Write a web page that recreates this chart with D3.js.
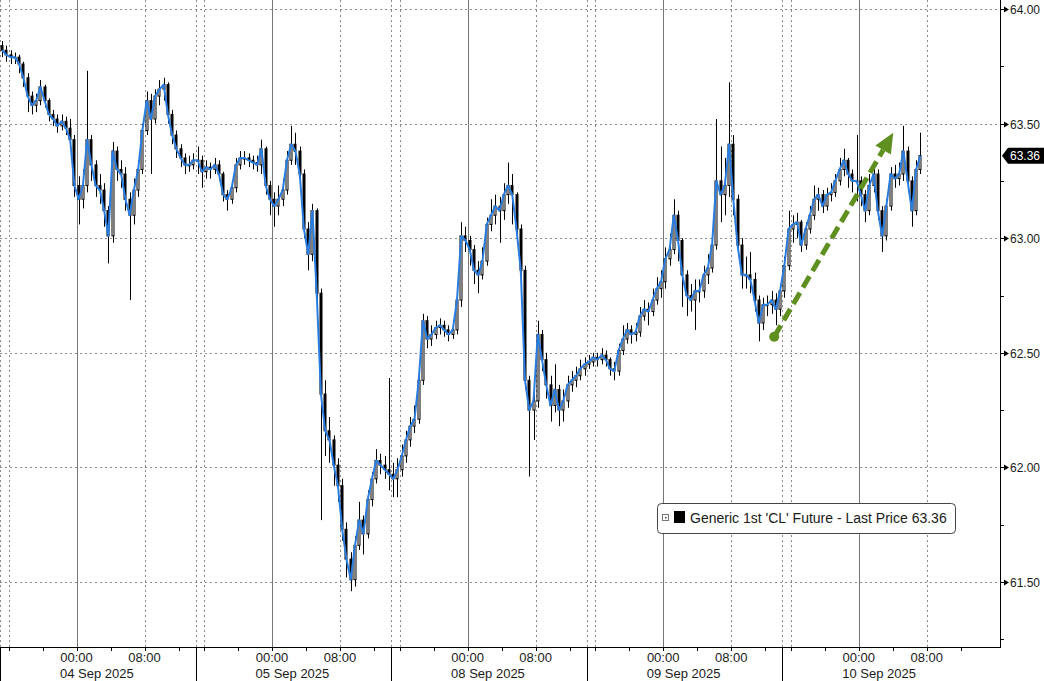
<!DOCTYPE html>
<html><head><meta charset="utf-8">
<script src="https://cdn.jsdelivr.net/npm/d3@7"></script>
<style>html,body{margin:0;padding:0;background:#fff;}svg{display:block;}</style>
</head><body>
<svg id="chart" width="1044" height="681"></svg>
<script>
// ---- data ----
const sessionDates = ["04 Sep 2025","05 Sep 2025","08 Sep 2025","09 Sep 2025","10 Sep 2025"];
const hourLabels = ["00:00","08:00"];
const priceTicks = [61.5, 62.0, 62.5, 63.0, 63.5, 64.0];
const minorPriceTicks = [61.25, 61.75, 62.25, 62.75, 63.25, 63.75];
const seriesName = "Generic 1st 'CL' Future - Last Price";
const firstOpen = 63.84;

const closes04 = [63.82,63.80,63.79,63.79,63.76,63.70,63.62,63.58,63.60,63.66,63.60,63.54,63.52,63.49,63.51,63.48,63.43,63.23,63.17,63.23,63.43,63.32,63.23,63.21,63.12,63.01,63.38,63.30,63.28,63.17,63.10,63.21,63.30,63.47,63.60,63.52,63.62,63.65,63.67,63.54,63.45,63.39,63.35,63.32,63.32,63.34];
const highs04  = [63.86,63.84,63.82,63.81,63.80,63.77,63.72,63.64,63.63,63.69,63.67,63.61,63.56,63.54,63.54,63.53,63.52,63.45,63.27,63.30,63.73,63.45,63.34,63.28,63.24,63.14,63.42,63.40,63.34,63.31,63.20,63.26,63.34,63.50,63.64,63.63,63.65,63.69,63.70,63.68,63.56,63.47,63.41,63.37,63.36,63.37];
const lows04   = [63.79,63.77,63.76,63.76,63.72,63.66,63.55,63.54,63.55,63.58,63.57,63.51,63.49,63.46,63.47,63.45,63.40,63.18,63.06,63.13,63.20,63.25,63.18,63.15,63.05,62.89,62.98,63.25,63.22,63.12,62.73,63.06,63.18,63.28,63.45,63.28,63.50,63.58,63.60,63.50,63.41,63.35,63.31,63.28,63.29,63.30];

const closes05 = [63.34,63.29,63.31,63.30,63.32,63.28,63.19,63.17,63.22,63.32,63.35,63.35,63.34,63.33,63.32,63.39,63.23,63.17,63.14,63.17,63.21,63.34,63.41,63.38,63.28,63.04,62.93,63.12,62.76,62.32,62.16,62.12,62.01,61.92,61.73,61.60,61.51,61.66,61.77,61.71,61.86,61.95,62.03,62.01,61.99,61.97];
const highs05  = [63.40,63.36,63.34,63.33,63.35,63.34,63.29,63.21,63.25,63.35,63.38,63.38,63.37,63.36,63.36,63.43,63.40,63.25,63.20,63.23,63.26,63.38,63.49,63.46,63.40,63.30,63.07,63.15,63.13,62.78,62.38,62.22,62.14,62.04,61.95,61.76,61.63,61.70,61.85,61.79,61.90,61.98,62.08,62.06,62.05,62.39];
const lows05   = [63.28,63.22,63.26,63.26,63.28,63.25,63.16,63.12,63.15,63.20,63.30,63.32,63.31,63.30,63.29,63.28,63.19,63.10,63.05,63.10,63.14,63.19,63.32,63.32,63.22,63.00,62.86,62.90,62.70,61.77,62.05,62.02,61.92,61.85,61.68,61.52,61.46,61.48,61.64,61.62,61.69,61.83,61.93,61.97,61.95,61.90];

const closes08 = [61.95,61.99,62.05,62.12,62.18,62.21,62.38,62.64,62.56,62.58,62.61,62.62,62.60,62.58,62.60,62.73,63.01,62.99,62.95,62.86,62.84,62.90,63.06,63.10,63.14,63.12,63.19,63.23,63.19,63.04,62.86,62.38,62.25,62.29,62.58,62.47,62.36,62.27,62.34,62.25,62.29,62.36,62.38,62.40,62.43,62.45];
const highs08  = [62.02,62.04,62.10,62.16,62.22,62.27,62.42,62.67,62.66,62.62,62.64,62.65,62.64,62.62,62.63,62.80,63.07,63.05,63.01,62.97,62.90,62.96,63.09,63.17,63.19,63.18,63.24,63.33,63.28,63.20,63.06,62.88,62.40,62.36,62.64,62.60,62.50,62.40,62.45,62.36,62.34,62.40,62.42,62.44,62.47,62.48];
const lows08   = [61.87,61.87,61.96,62.02,62.09,62.15,62.19,62.36,62.52,62.53,62.56,62.58,62.57,62.55,62.56,62.58,62.70,62.94,62.88,62.80,62.76,62.82,62.88,63.03,63.06,62.98,63.08,63.15,63.06,62.99,62.82,62.34,61.96,62.12,62.26,62.42,62.30,62.20,62.24,62.18,62.20,62.26,62.33,62.35,62.38,62.40];

const closes09 = [62.46,62.48,62.47,62.49,62.47,62.43,62.42,62.51,62.56,62.60,62.58,62.59,62.66,62.69,62.68,62.73,62.78,62.81,62.91,62.95,63.10,62.99,62.84,62.75,62.73,62.77,62.77,62.84,62.87,62.97,63.25,63.19,63.23,63.41,63.17,62.97,62.84,62.84,62.82,62.73,62.63,62.71,62.71,62.73,62.69,62.77];
const highs09  = [62.49,62.50,62.50,62.52,62.51,62.48,62.46,62.54,62.62,62.63,62.62,62.63,62.70,62.73,62.72,62.78,62.83,62.86,62.96,63.02,63.17,63.12,63.00,62.86,62.80,62.82,62.82,62.88,62.93,63.02,63.52,63.40,63.35,63.68,63.45,63.19,63.00,62.92,62.94,62.85,62.75,62.74,62.75,62.77,62.76,62.80];
const lows09   = [62.43,62.44,62.44,62.45,62.44,62.40,62.38,62.40,62.49,62.54,62.54,62.55,62.57,62.64,62.62,62.66,62.71,62.74,62.78,62.88,62.93,62.90,62.70,62.66,62.68,62.60,62.72,62.74,62.80,62.85,62.95,63.07,63.10,63.18,63.10,62.92,62.78,62.78,62.76,62.68,62.55,62.60,62.66,62.67,62.62,62.66];

const closes10 = [62.88,63.04,63.06,63.07,62.97,63.04,63.10,63.17,63.19,63.14,63.19,63.20,63.25,63.30,63.34,63.28,63.25,63.25,63.19,63.12,63.23,63.28,63.12,63.01,63.14,63.28,63.26,63.28,63.38,63.25,63.12,63.30,63.36];
const highs10  = [62.92,63.12,63.10,63.11,63.08,63.07,63.14,63.23,63.22,63.21,63.22,63.24,63.28,63.35,63.39,63.35,63.30,63.45,63.27,63.21,63.28,63.33,63.30,63.14,63.17,63.31,63.32,63.33,63.49,63.40,63.27,63.34,63.46];
const lows10   = [62.74,62.86,62.98,63.00,62.94,62.95,63.02,63.08,63.12,63.11,63.12,63.16,63.18,63.23,63.27,63.22,63.20,63.16,63.14,63.07,63.10,63.20,63.08,62.94,62.99,63.12,63.22,63.23,63.25,63.20,63.05,63.10,63.28];

// annotation arrow: [trading hour, price]
const arrowStart = [91.06, 62.57];
const arrowEnd = [105.06, 63.46];

// ---- layout ----
const W = 1044, H = 681;
const plotRight = 1000, plotBottom = 647;
const sessionHours = 23, barHours = 0.5;
const svg = d3.select("#chart");
const x = d3.scaleLinear().domain([0, 117.5]).range([0, 999]);
const y = d3.scaleLinear().domain([61.5, 64.0]).range([582, 9]);
const font = "'Liberation Sans', Arial, sans-serif";

const sessions = [
  {c: closes04, h: highs04, l: lows04},
  {c: closes05, h: highs05, l: lows05},
  {c: closes08, h: highs08, l: lows08},
  {c: closes09, h: highs09, l: lows09},
  {c: closes10, h: highs10, l: lows10}
];
const bars = [];
let prev = firstOpen;
sessions.forEach((s, k) => {
  s.c.forEach((c, j) => {
    bars.push({t: sessionHours * k + barHours * j + barHours / 2, o: prev, c: c, h: s.h[j], l: s.l[j]});
    prev = c;
  });
});
const last = bars[bars.length - 1].c;

// ---- gridlines ----
const grid = svg.append("g");
priceTicks.forEach(p => {
  grid.append("line").attr("x1", 0).attr("x2", plotRight).attr("y1", Math.round(y(p)) + 0.5).attr("y2", Math.round(y(p)) + 0.5)
    .attr("stroke", "#8a8a8a").attr("stroke-width", 1).attr("stroke-dasharray", "2,3");
});
sessionDates.forEach((d, k) => {
  const s = sessionHours * k;
  [s, s + 1, s + 17].forEach(hh => {
    const xx = Math.round(x(hh)) + 0.5;
    grid.append("line").attr("x1", xx).attr("x2", xx).attr("y1", 0).attr("y2", plotBottom)
      .attr("stroke", "#8a8a8a").attr("stroke-width", 1).attr("stroke-dasharray", "2,3");
  });
  const xm = Math.round(x(s + 9)) + 0.5;
  grid.append("line").attr("x1", xm).attr("x2", xm).attr("y1", 0).attr("y2", plotBottom)
    .attr("stroke", "#777").attr("stroke-width", 1);
});

// ---- candles ----
const cg = svg.append("g");
const bw = 3;
cg.selectAll("line.wick").data(bars).join("line").attr("class", "wick")
  .attr("x1", d => Math.round(x(d.t)) + 0.5).attr("x2", d => Math.round(x(d.t)) + 0.5)
  .attr("y1", d => y(d.h)).attr("y2", d => y(d.l)).attr("stroke", "#000").attr("stroke-width", 1);
cg.selectAll("rect.body").data(bars).join("rect").attr("class", "body")
  .attr("x", d => Math.round(x(d.t)) - 1)
  .attr("y", d => y(Math.max(d.o, d.c)))
  .attr("width", bw - 1)
  .attr("height", d => Math.max(1, Math.abs(y(d.o) - y(d.c))))
  .attr("fill", d => d.c >= d.o ? "#fff" : "#000")
  .attr("stroke", "#000").attr("stroke-width", 1);

// ---- close line ----
svg.append("path").datum(bars)
  .attr("d", d3.line().x(d => x(d.t)).y(d => y(d.c)))
  .attr("fill", "none").attr("stroke", "#2a7de0").attr("stroke-width", 2).attr("stroke-linejoin", "round");

// ---- annotation arrow ----
const ax0 = x(arrowStart[0]), ay0 = y(arrowStart[1]);
const ax1 = x(arrowEnd[0]), ay1 = y(arrowEnd[1]);
const len = Math.hypot(ax1 - ax0, ay1 - ay0);
const ux = (ax1 - ax0) / len, uy = (ay1 - ay0) / len;
const headLen = 20, headHalf = 9;
const bx = ax1 - ux * headLen, by = ay1 - uy * headLen;
const green = "#5e8f1f";
svg.append("line").attr("x1", ax0).attr("y1", ay0).attr("x2", bx).attr("y2", by)
  .attr("stroke", green).attr("stroke-width", 5).attr("stroke-dasharray", "13,6");
svg.append("circle").attr("cx", ax0).attr("cy", ay0).attr("r", 5).attr("fill", green);
svg.append("polygon").attr("points", [
  [ax1, ay1], [bx - uy * headHalf, by + ux * headHalf], [bx + uy * headHalf, by - ux * headHalf]
].map(p => p.join(",")).join(" ")).attr("fill", green);

// ---- axes ----
const axes = svg.append("g");
axes.append("line").attr("x1", plotRight + 0.5).attr("x2", plotRight + 0.5).attr("y1", 0).attr("y2", plotBottom + 1)
  .attr("stroke", "#000").attr("stroke-width", 1);
axes.append("line").attr("x1", 0).attr("x2", plotRight + 1).attr("y1", plotBottom + 0.5).attr("y2", plotBottom + 0.5)
  .attr("stroke", "#000").attr("stroke-width", 1);

priceTicks.forEach(p => {
  const yy = Math.round(y(p)) + 0.5;
  axes.append("line").attr("x1", plotRight).attr("x2", plotRight + 6).attr("y1", yy).attr("y2", yy).attr("stroke", "#000");
  axes.append("polygon").attr("points", `${plotRight + 4},${yy - 3} ${plotRight + 9},${yy} ${plotRight + 4},${yy + 3}`).attr("fill", "#000");
  axes.append("text").attr("x", plotRight + 10).attr("y", yy + 4.5).attr("font-family", font).attr("font-size", 12)
    .attr("fill", "#1a1a1a").text(p.toFixed(2));
});
minorPriceTicks.forEach(p => {
  const yy = Math.round(y(p)) + 0.5;
  axes.append("line").attr("x1", plotRight).attr("x2", plotRight + 4).attr("y1", yy).attr("y2", yy).attr("stroke", "#000");
});

sessionDates.forEach((d, k) => {
  const s = sessionHours * k;
  const xs = Math.round(x(s)) + 0.5;
  axes.append("line").attr("x1", xs).attr("x2", xs).attr("y1", plotBottom).attr("y2", H).attr("stroke", "#000");
  [1, 5, 9, 13, 17, 21].forEach(hh => {
    const xt = Math.round(x(s + hh)) + 0.5;
    axes.append("line").attr("x1", xt).attr("x2", xt).attr("y1", plotBottom).attr("y2", plotBottom + 4).attr("stroke", "#000");
  });
  const xMid = x(s + 9), x8 = x(s + 17);
  axes.append("text").attr("x", xMid).attr("y", 662).attr("text-anchor", "middle").attr("font-family", font)
    .attr("font-size", 13).attr("fill", "#1a1a1a").text(hourLabels[0]);
  axes.append("text").attr("x", x8).attr("y", 662).attr("text-anchor", "middle").attr("font-family", font)
    .attr("font-size", 13).attr("fill", "#1a1a1a").text(hourLabels[1]);
  axes.append("text").attr("x", xMid - 16.5).attr("y", 678).attr("font-family", font)
    .attr("font-size", 13).attr("fill", "#1a1a1a").text(d);
});

// last price tag
const ly = y(last);
axes.append("polygon").attr("points", `${plotRight + 2},${ly} ${plotRight + 8},${ly - 8} ${W},${ly - 8} ${W},${ly + 8} ${plotRight + 8},${ly + 8}`)
  .attr("fill", "#000");
axes.append("text").attr("x", plotRight + 10).attr("y", ly + 4.5).attr("font-family", font).attr("font-size", 12)
  .attr("fill", "#fff").text(last.toFixed(2));

// ---- legend ----
const lg = svg.append("g");
lg.append("rect").attr("x", 657.5).attr("y", 503.5).attr("width", 298).attr("height", 30).attr("rx", 4)
  .attr("fill", "#fff").attr("stroke", "#444");
lg.append("rect").attr("x", 662.5).attr("y", 514.5).attr("width", 6).attr("height", 6).attr("fill", "#fff").attr("stroke", "#777");
lg.append("rect").attr("x", 665).attr("y", 517).attr("width", 1.5).attr("height", 1.5).attr("fill", "#444");
lg.append("rect").attr("x", 674).attr("y", 511).attr("width", 11).attr("height", 12).attr("fill", "#000");
lg.append("text").attr("x", 690).attr("y", 523).attr("font-family", font).attr("font-size", 14)
  .attr("fill", "#1a1a1a").text(seriesName + " " + last.toFixed(2));
</script>
</body></html>
